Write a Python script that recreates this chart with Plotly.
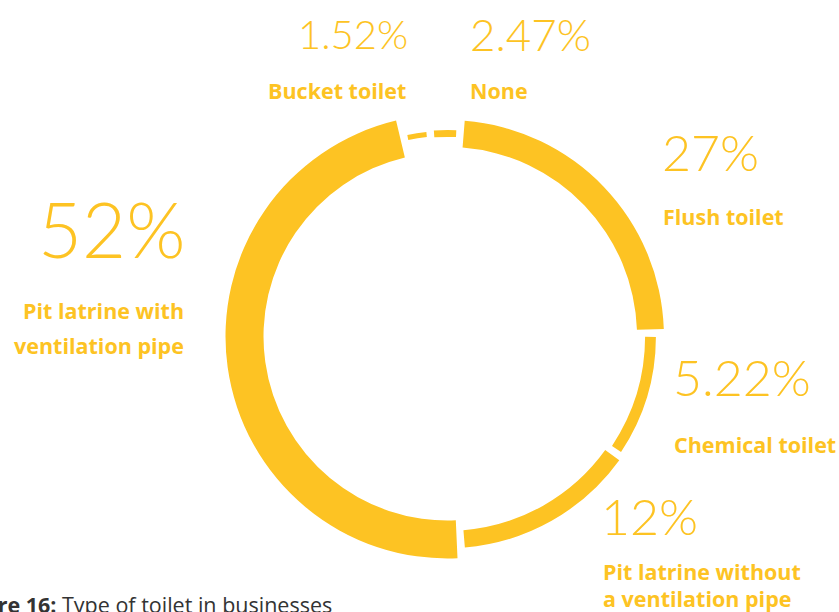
import numpy as np
import plotly.graph_objects as go

# ---------------- data ----------------
categories = ["None", "Flush toilet", "Chemical toilet",
              "Pit latrine without a ventilation pipe",
              "Pit latrine with ventilation pipe", "Bucket toilet"]
values = [2.47, 27, 5.22, 12, 52, 1.52]
pct_labels = ["2.47%", "27%", "5.22%", "12%", "52%", "1.52%"]
name_lines = [["None"], ["Flush toilet"], ["Chemical toilet"],
              ["Pit latrine without", "a ventilation pipe"],
              ["Pit latrine with", "ventilation pipe"], ["Bucket toilet"]]
# share of the ring each arc occupies in the original graphic (%)
ring_share = [2.32, 23.76, 9.90, 14.35, 47.58, 2.08]
caption_bold = "Figure 16:"
caption_text = " Type of toilet in businesses"

# ---------------- styling / layout ----------------
W, H = 839, 612
YEL = "#FDC323"
CX, CY = 447.5, 336.5      # ring centre in px
R_MID = 203                 # mid radius of the ring in px
R_BOX = 240
GAP_PX = 7.5

shares = np.array(ring_share) / np.sum(ring_share) * 360.0
starts = np.concatenate([[0], np.cumsum(shares)[:-1]])
theta = starts + shares / 2
gap_deg = np.degrees(GAP_PX / R_MID)
widths = shares - gap_deg
thick = 5.52 * np.sqrt(np.array(values)) - 1.8   # thickness scale (sqrt of value)
base = R_MID - thick / 2

fig = go.Figure()
fig.add_trace(go.Barpolar(
    r=thick, base=base, theta=theta, width=widths,
    marker=dict(color=YEL, line=dict(width=0)),
    text=categories, hoverinfo="text", showlegend=False,
))

fig.update_layout(
    width=W, height=H, margin=dict(l=0, r=0, t=0, b=0),
    paper_bgcolor="white", plot_bgcolor="white",
    polar=dict(
        domain=dict(x=[(CX - R_BOX) / W, (CX + R_BOX) / W],
                    y=[1 - (CY + R_BOX) / H, 1 - (CY - R_BOX) / H]),
        bgcolor="rgba(0,0,0,0)", hole=0,
        radialaxis=dict(range=[0, R_BOX], visible=False, showgrid=False),
        angularaxis=dict(visible=False, showgrid=False, direction="clockwise",
                         rotation=90 + (360 - 355.15)),
    ),
)

LIGHT = dict(family="Lato", color=YEL, weight=300)
BOLD = dict(family="Open Sans", color=YEL, weight=700)

# label placement (px): pct (x, y, size), name x, name line ys, anchor
place = [
    (468, 34, 44, 468, [90], "left"),             # None
    (660, 151.5, 50, 661, [216], "left"),         # Flush
    (671, 376.5, 50, 672, [444], "left"),         # Chemical
    (599, 515.5, 50, 601, [571, 598], "left"),    # Pit without
    (187, 228, 76, 186, [310, 345], "right"),     # Pit with
    (410, 34, 40, 408, [90], "right"),            # Bucket
]

ann = []
for i, (px, py, ps, nx, nys, anc) in enumerate(place):
    ann.append(dict(x=px / W, y=1 - py / H, xref="paper", yref="paper",
                    text=pct_labels[i], showarrow=False, xanchor=anc,
                    yanchor="middle", font=dict(size=ps, **LIGHT)))
    for line, ny in zip(name_lines[i], nys):
        ann.append(dict(x=nx / W, y=1 - ny / H, xref="paper", yref="paper",
                        text=line, showarrow=False, xanchor=anc,
                        yanchor="middle", font=dict(size=21.5, **BOLD)))

ann.append(dict(x=-49 / W, y=1 - 604 / H, xref="paper", yref="paper",
                text="<b>" + caption_bold + "</b>" + caption_text,
                showarrow=False, xanchor="left", yanchor="middle",
                font=dict(family="Open Sans", size=21.5, color="#333333")))

fig.update_layout(annotations=ann)
fig.write_html("out.html", config={"displayModeBar": False},
               post_script="document.body.style.margin='0';document.body.style.overflow='hidden';")
